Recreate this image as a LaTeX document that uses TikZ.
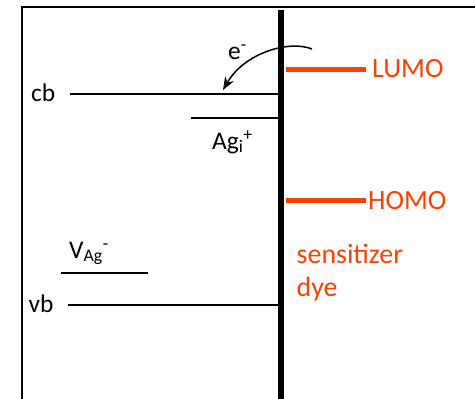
\documentclass[tikz,border=0pt]{standalone}
\usepackage{fontspec}
\setmainfont{Carlito}
\usetikzlibrary{arrows.meta}
\definecolor{dyered}{RGB}{255,64,0}
\begin{document}
\begin{tikzpicture}[x=1bp,y=-1bp,
  level/.style={line width=2bp,black},
  dyelevel/.style={line width=5bp,dyered},
  lbl/.style={inner sep=0pt,anchor=base west,font=\fontsize{25.5}{30}\selectfont},
  redlbl/.style={inner sep=0pt,anchor=base west,text=dyered,font=\fontsize{28}{33}\selectfont}]
\useasboundingbox (0,0) rectangle (475,398);
% frame
\draw[line width=2.6bp] (22,399) -- (22,7) -- (476,7);
% thick interface
\coordinate (itop) at (280.5,10);
\coordinate (ibot) at (280.5,399);
\draw[line width=6bp] (itop) -- (ibot);
% cb
\node[lbl] (cb) at (31,101.5) {cb};
\coordinate (cbL) at (70,93.5);
\coordinate (cbR) at (278,93.5);
\draw[level] (cbL) -- (cbR);
% Ag_i
\coordinate (agL) at (191,118);
\coordinate (agR) at (278,118);
\draw[level] (agL) -- (agR);
\node[lbl] (agi) at (212,149) {Ag\textsubscript{i}\textsuperscript{+}};
% V_Ag
\node[lbl] (vag) at (69,258) {V\textsubscript{Ag}\textsuperscript{-}};
\coordinate (vL) at (61,272.5);
\coordinate (vR) at (147.5,272.5);
\draw[level] (vL) -- (vR);
% vb
\node[lbl] (vb) at (28.5,312) {vb};
\coordinate (vbL) at (68,304.5);
\coordinate (vbR) at (278,304.5);
\draw[level] (vbL) -- (vbR);
% electron transfer
\coordinate (eS) at (312,49);
\coordinate (eE) at (223,90);
\draw[line width=1.5bp,-{Stealth[length=13bp,width=10bp]}] (eS) .. controls (290,40) and (245,52) .. (eE);
\node[lbl] (e) at (228,59) {e\textsuperscript{-}};
% dye levels
\coordinate (luL) at (286,69);
\coordinate (luR) at (366,69);
\draw[dyelevel] (luL) -- (luR);
\node[redlbl,anchor=west] (lumo) at (372,69) {LUMO};
\coordinate (hoL) at (286,200.5);
\coordinate (hoR) at (366,200.5);
\draw[dyelevel] (hoL) -- (hoR);
\node[redlbl,anchor=west] (homo) at (368,200.5) {HOMO};
\node[redlbl] (sens) at (296.5,263) {sensitizer};
\node[redlbl] (dye) at (296.5,296) {dye};
\end{tikzpicture}
\end{document}
